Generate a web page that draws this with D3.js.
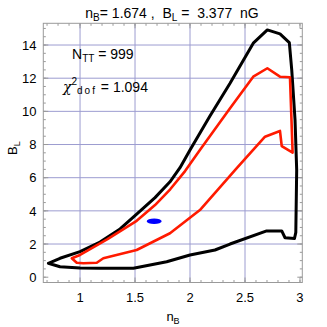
<!DOCTYPE html>
<html>
<head>
<meta charset="utf-8">
<script src="https://cdn.jsdelivr.net/npm/d3@7"></script>
<style>
 body { margin: 0; background: #fff; }
 text { font-family: "Liberation Sans", Arial, sans-serif; fill: #000; }
</style>
</head>
<body>
<div id="chart"></div>
<script>
// contour outlines (n_B, B_L)
var outerN = [0.712, 0.818, 1.0, 1.182, 1.364, 1.515, 1.682, 1.818, 1.909, 2.0, 2.18, 2.364, 2.575, 2.703, 2.818, 2.903, 2.925, 2.955, 2.97, 2.962, 2.95, 2.864, 2.834, 2.697, 2.364, 2.227, 2.0, 1.788, 1.485, 1.18, 1.0, 0.818];
var outerB = [0.84, 1.14, 1.54, 2.12, 2.91, 3.8, 4.8, 5.75, 6.6, 7.67, 9.7, 11.69, 14.11, 14.91, 14.67, 14.14, 12.5, 9.48, 6.47, 2.7, 2.33, 2.38, 2.79, 2.79, 2.0, 1.64, 1.34, 0.93, 0.54, 0.54, 0.55, 0.63];

var innerN = [0.925, 1.0, 1.25, 1.515, 1.682, 1.82, 1.955, 2.09, 2.364, 2.575, 2.703, 2.818, 2.909, 2.933, 2.834, 2.818, 2.682, 2.425, 2.09, 1.818, 1.515, 1.212, 1.152, 1.03, 0.97];
var innerB = [1.14, 1.34, 2.3, 3.4, 4.35, 5.3, 6.4, 7.67, 10.19, 12.09, 12.6, 12.09, 12.06, 7.51, 7.91, 8.82, 8.47, 6.57, 4.05, 2.65, 1.64, 1.14, 0.87, 0.84, 0.87];

var bestN = 1.674, bestB = 3.377;
var nTT = 999, chi2 = 1.094;

var xTicks = [1, 1.5, 2, 2.5, 3];
var yTicks = [0, 2, 4, 6, 8, 10, 12, 14];

var width = 327, height = 327;
var pl = 43.3, pr = 302.3, pt = 23.3, pb = 282.5;

var svg = d3.select("#chart").append("svg")
    .attr("width", width)
    .attr("height", height);

var x = d3.scaleLinear().domain([0.666, 3.021]).range([pl, pr]);
var y = d3.scaleLinear().domain([-0.32, 15.31]).range([pb, pt]);

// grid
svg.append("g").selectAll("line").data(xTicks.filter(function(d) { return d < 3; })).enter().append("line")
    .attr("x1", function(d) { return x(d); }).attr("x2", function(d) { return x(d); })
    .attr("y1", pt).attr("y2", pb)
    .attr("stroke", "#9c9cd0").attr("stroke-width", 1);
svg.append("g").selectAll("line").data(yTicks.filter(function(d) { return d > 0; })).enter().append("line")
    .attr("y1", function(d) { return y(d); }).attr("y2", function(d) { return y(d); })
    .attr("x1", pl).attr("x2", pr)
    .attr("stroke", "#9c9cd0").attr("stroke-width", 1);

// frame with inward ticks on all sides
var frame = "#9a9a9a";
var xMinor = d3.range(0.7, 3.02, 0.1);
var yMinor = d3.range(0, 15.3, 0.5);
function ticksX(yy, dir) {
  var g = svg.append("g");
  g.selectAll(".mn").data(xMinor).enter().append("line")
    .attr("x1", function(d) { return x(d); }).attr("x2", function(d) { return x(d); })
    .attr("y1", yy).attr("y2", yy + dir * 2.5).attr("stroke", frame);
  g.selectAll(".mj").data(xTicks).enter().append("line")
    .attr("x1", function(d) { return x(d); }).attr("x2", function(d) { return x(d); })
    .attr("y1", yy).attr("y2", yy + dir * 5).attr("stroke", frame);
}
function ticksY(xx, dir) {
  var g = svg.append("g");
  g.selectAll(".mn").data(yMinor).enter().append("line")
    .attr("y1", function(d) { return y(d); }).attr("y2", function(d) { return y(d); })
    .attr("x1", xx).attr("x2", xx + dir * 2.5).attr("stroke", frame);
  g.selectAll(".mj").data(yTicks).enter().append("line")
    .attr("y1", function(d) { return y(d); }).attr("y2", function(d) { return y(d); })
    .attr("x1", xx).attr("x2", xx + dir * 5).attr("stroke", frame);
}
ticksX(pb, -1); ticksX(pt, 1);
ticksY(pl, 1); ticksY(pr, -1);

svg.append("rect")
    .attr("x", pl).attr("y", pt)
    .attr("width", pr - pl).attr("height", pb - pt)
    .attr("fill", "none").attr("stroke", frame).attr("stroke-width", 1);

// tick labels
svg.append("g").selectAll("text").data(xTicks).enter().append("text")
    .attr("x", function(d) { return x(d); })
    .attr("y", 301.5)
    .attr("text-anchor", "middle")
    .style("font-size", "13px")
    .text(function(d) { return d; });
svg.append("g").selectAll("text").data(yTicks).enter().append("text")
    .attr("x", 36.5)
    .attr("y", function(d) { return y(d); })
    .attr("dy", "0.36em")
    .attr("text-anchor", "end")
    .style("font-size", "13px")
    .text(function(d) { return d; });

// contours
var line = d3.line()
    .x(function(d) { return x(d[0]); })
    .y(function(d) { return y(d[1]); })
    .curve(d3.curveLinearClosed);

svg.append("path")
    .attr("d", line(d3.zip(outerN, outerB)))
    .attr("fill", "none").attr("stroke", "#000").attr("stroke-width", 3)
    .attr("stroke-linejoin", "round");
svg.append("path")
    .attr("d", line(d3.zip(innerN, innerB)))
    .attr("fill", "none").attr("stroke", "#ff1a00").attr("stroke-width", 2.6)
    .attr("stroke-linejoin", "round");

// best fit point
svg.append("ellipse")
    .attr("cx", x(bestN)).attr("cy", y(bestB))
    .attr("rx", 7.5).attr("ry", 2.8)
    .attr("fill", "#0000ff");

// title
var title = svg.append("text")
    .attr("x", 172).attr("y", 17.5)
    .attr("text-anchor", "middle")
    .style("font-size", "14px")
    .attr("xml:space", "preserve");
title.append("tspan").text("n");
title.append("tspan").attr("dy", 3).style("font-size", "10px").text("B");
title.append("tspan").attr("dy", -3).text("= " + bestN.toFixed(3) + " ,  B");
title.append("tspan").attr("dy", 3).style("font-size", "10px").text("L");
title.append("tspan").attr("dy", -3).text(" =  " + bestB.toFixed(3) + "  nG");

// axis labels
var xl = svg.append("text")
    .attr("x", 173).attr("y", 321)
    .attr("text-anchor", "middle")
    .style("font-size", "13px");
xl.append("tspan").text("n");
xl.append("tspan").attr("dy", 3).style("font-size", "9px").text("B");

var yl = svg.append("text")
    .attr("transform", "translate(16.5,155) rotate(-90)")
    .attr("text-anchor", "start")
    .style("font-size", "13px");
yl.append("tspan").text("B");
yl.append("tspan").attr("dy", 3).style("font-size", "9px").text("L");

// annotations
var t1 = svg.append("text").attr("x", 72).attr("y", 59).style("font-size", "14px")
    .attr("xml:space", "preserve");
t1.append("tspan").text("N");
t1.append("tspan").attr("dy", 3).style("font-size", "10px").text("TT");
t1.append("tspan").attr("dy", -3).text(" = " + nTT);

var t2 = svg.append("text").attr("x", 63).attr("y", 92).style("font-size", "14px")
    .attr("xml:space", "preserve");
t2.append("tspan").style("font-style", "italic").style("font-family", "'DejaVu Serif', serif").text("\u03c7");
t2.append("tspan").attr("dy", -7).style("font-size", "10px").text("2");
t2.append("tspan").attr("dy", 9).style("font-size", "10px").style("letter-spacing", "2px").text("dof");
t2.append("tspan").attr("dy", -2).text(" = " + chi2.toFixed(3));
</script>
</body>
</html>
